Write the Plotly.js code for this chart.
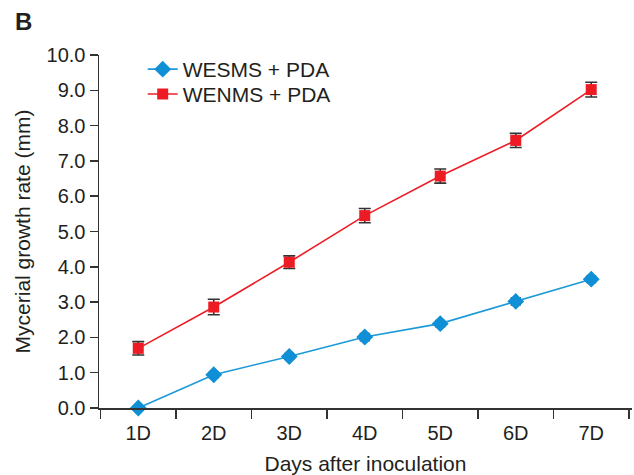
<!DOCTYPE html>
<html>
<head>
<meta charset="utf-8">
<script src="https://cdn.plot.ly/plotly-3.0.1.min.js"></script>
<style>html,body{margin:0;padding:0;background:#fff;}#chart{width:634px;height:475px;}</style>
</head>
<body>
<div id="chart"></div>
<script>
const days = ["1D", "2D", "3D", "4D", "5D", "6D", "7D"];
const wesms = [0.0, 0.94, 1.46, 2.01, 2.39, 3.02, 3.65];
const wesmsErr = [0.0, 0.08, 0.08, 0.1, 0.09, 0.1, 0.09];
const wenms = [1.69, 2.86, 4.13, 5.45, 6.57, 7.58, 9.02];
const wenmsErr = [0.19, 0.22, 0.18, 0.2, 0.2, 0.2, 0.21];
const yTicks = [0, 1, 2, 3, 4, 5, 6, 7, 8, 9, 10];
const yTickText = ["0.0", "1.0", "2.0", "3.0", "4.0", "5.0", "6.0", "7.0", "8.0", "9.0", "10.0"];

const font = "Liberation Sans, Arial, sans-serif";
const txt = "#231f20";

const traces = [
  {
    x: days, y: wesms, name: "WESMS + PDA", type: "scatter", mode: "lines+markers", cliponaxis: false,
    legend: "legend",
    line: {color: "#1b9ad7", width: 1.6},
    marker: {symbol: "diamond", size: 13, color: "#0f8fd5"},
    error_y: {type: "data", array: wesmsErr, visible: true, color: "#333", thickness: 1.6, width: 5}
  },
  {
    x: days, y: wenms, name: "WENMS + PDA", type: "scatter", mode: "lines+markers", cliponaxis: false,
    legend: "legend2",
    line: {color: "#ee1c25", width: 1.6},
    marker: {symbol: "square", size: 11, color: "#ed1c24"},
    error_y: {type: "data", array: wenmsErr, visible: true, color: "#333", thickness: 1.6, width: 6}
  }
];

const legendBase = {xanchor: "left", yanchor: "top", bgcolor: "rgba(0,0,0,0)",
                    font: {family: font, size: 21, color: txt}};

const layout = {
  width: 634, height: 475,
  margin: {l: 99, r: 2, t: 55, b: 67},
  paper_bgcolor: "#fff", plot_bgcolor: "#fff",
  font: {family: font, size: 20, color: txt},
  showlegend: true,
  legend: Object.assign({x: 0.082, y: 1.017}, legendBase),
  legend2: Object.assign({x: 0.082, y: 0.9465}, legendBase),
  xaxis: {
    type: "category", range: [-0.52, 6.54], tickson: "boundaries",
    showline: true, linecolor: "#333", linewidth: 1.5,
    ticks: "outside", ticklen: 9, tickwidth: 1.5, tickcolor: "#333",
    showgrid: false, zeroline: false, ticklabelstandoff: 6,
    tickfont: {family: font, size: 20, color: txt},
    title: {text: "Days after inoculation", font: {family: font, size: 21, color: txt}, standoff: 14}
  },
  yaxis: {
    range: [0, 10], tickvals: yTicks, ticktext: yTickText,
    showline: true, linecolor: "#333", linewidth: 1.5,
    ticks: "outside", ticklen: 8, tickwidth: 1.5, tickcolor: "#333",
    showgrid: false, zeroline: false,
    tickfont: {family: font, size: 20, color: txt},
    title: {text: "Mycerial growth rate (mm)", font: {family: font, size: 21, color: txt}, standoff: 10}
  },
  annotations: [
    {text: "<b>B</b>", xref: "paper", yref: "paper", x: -0.162, y: 1.138, xanchor: "left", yanchor: "top",
     showarrow: false, font: {family: font, size: 24, color: txt}}
  ]
};

Plotly.newPlot("chart", traces, layout, {displayModeBar: false, staticPlot: true});
</script>
</body>
</html>
